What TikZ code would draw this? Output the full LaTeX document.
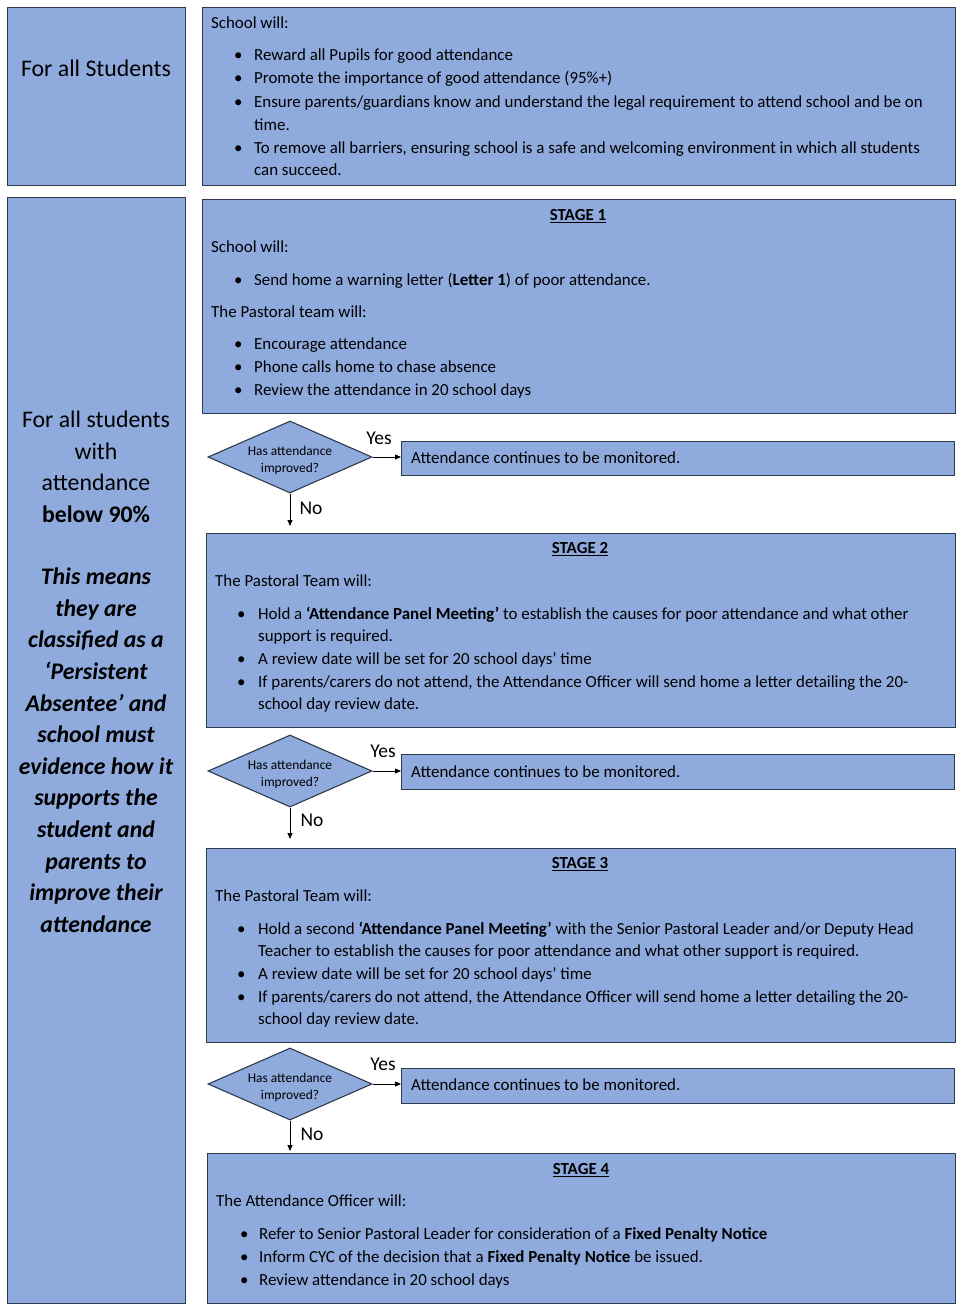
\documentclass[tikz,border=0pt]{standalone}
\usepackage{fontspec}
\setmainfont{Carlito}
\usetikzlibrary{shapes.geometric,arrows.meta}
\definecolor{boxfill}{HTML}{8FAADC}
\definecolor{boxline}{HTML}{2E3A4E}
\newcommand\tl[4]{\node[txt] (#1) at (#2,#3+6) {#4};}
\newcommand\bl[5]{\node[txt] (#1b) at (#2-3,#4+6) {•};\node[txt] (#1) at (#3,#4+6) {#5};}
\begin{document}
\begin{tikzpicture}[x=1pt,y=-1pt,
  box/.style={draw=boxline,fill=boxfill,line width=1.3pt},
  txt/.style={anchor=base west,inner sep=0pt,font=\fontsize{16.9}{20}\selectfont},
  ttl/.style={anchor=base,inner sep=0pt,font=\fontsize{16.9}{20}\selectfont\bfseries},
  side/.style={anchor=base,inner sep=0pt,font=\fontsize{23.8}{28}\selectfont},
  dec/.style={diamond,draw=boxline,fill=boxfill,line width=1.1pt,minimum width=164pt,minimum height=72pt,inner sep=0pt},
  dtxt/.style={anchor=base,inner sep=0pt,font=\fontsize{13.4}{17}\selectfont},
  mon/.style={draw=boxline,fill=boxfill,line width=1.1pt},
  lab/.style={anchor=base,inner sep=0pt,font=\fontsize{19.5}{22}\selectfont},
  arr/.style={-{Triangle[length=6pt,width=5pt]},line width=0.8pt,draw=black}]
\useasboundingbox (0,0) rectangle (964,1314);
% left column
\node[box,minimum width=178pt,minimum height=178pt,anchor=north west,inner sep=0pt] (lefttop) at (7,7) {};
\node[side] (lt1) at (96,77) {For all Students};
\node[box,minimum width=178pt,minimum height=1106pt,anchor=north west,inner sep=0pt] (leftbig) at (7,197) {};
\node[side] (lb1) at (96,427) {For all students};
\node[side] (lb2) at (96,459) {with};
\node[side] (lb3) at (96,490) {attendance};
\node[side] (lb4) at (96,522) {\bfseries below 90\%};
\foreach \t [count=\i] in {This means,they are,classified as a,‘Persistent,Absentee’ and,school must,evidence how it,supports the,student and,parents to,improve their,attendance}
  \node[side,font=\fontsize{23.8}{28}\selectfont\bfseries\itshape] (li\i) at (96,553+31.6*\i) {\t};
% top right
\node[box,minimum width=753pt,minimum height=178pt,anchor=north west,inner sep=0pt] (toprt) at (202,7) {};
\tl{t0}{211}{23}{School will:}
\bl{t1}{237}{254}{55}{Reward all Pupils for good attendance}
\bl{t2}{237}{254}{78}{Promote the importance of good attendance (95\%+)}
\bl{t3}{237}{254}{101}{Ensure parents/guardians know and understand the legal requirement to attend school and be on}
\tl{t4}{254}{124}{time.}
\bl{t5}{237}{254}{147}{To remove all barriers, ensuring school is a safe and welcoming environment in which all students}
\tl{t6}{254}{169}{can succeed.}
% stage 1
\node[box,minimum width=753pt,minimum height=214pt,anchor=north west,inner sep=0pt] (s1) at (202,199) {};
\node[ttl] (s1t) at (578,220.5) {\underline{STAGE 1}};
\tl{s1a}{211}{246}{School will:}
\bl{s1b}{237}{254}{279}{Send home a warning letter (\textbf{Letter 1}) of poor attendance.}
\tl{s1c}{211}{311}{The Pastoral team will:}
\bl{s1d}{237}{254}{343}{Encourage attendance}
\bl{s1e}{237}{254}{366}{Phone calls home to chase absence}
\bl{s1f}{237}{254}{389}{Review the attendance in 20 school days}
% decision 1
\node[dec] (d1) at (290,457) {};
\node[dtxt] (d1a) at (290,455.5) {Has attendance};
\node[dtxt] (d1b) at (290,472.5) {improved?};
\node[mon,minimum width=553pt,minimum height=34pt,anchor=north west,inner sep=0pt] (m1) at (401,441) {};
\tl{m1t}{411}{457}{Attendance continues to be monitored.}
\draw[arr] (d1.east) -- (m1.west|-d1.east);
\node[lab] (y1) at (379,444) {Yes};
\coordinate (n1) at (290,526);
\draw[arr] (d1.south) -- (n1);
\node[lab] (no1) at (311,514) {No};
% stage 2
\node[box,minimum width=749pt,minimum height=194pt,anchor=north west,inner sep=0pt] (s2) at (206,533) {};
\node[ttl] (s2t) at (580,553.5) {\underline{STAGE 2}};
\tl{s2a}{215}{580}{The Pastoral Team will:}
\bl{s2b}{240}{258}{613}{Hold a \textbf{‘Attendance Panel Meeting’} to establish the causes for poor attendance and what other}
\tl{s2c}{258}{635}{support is required.}
\bl{s2d}{240}{258}{658}{A review date will be set for 20 school days’ time}
\bl{s2e}{240}{258}{681}{If parents/carers do not attend, the Attendance Officer will send home a letter detailing the 20-}
\tl{s2f}{258}{703}{school day review date.}
% decision 2
\node[dec] (d2) at (290,771) {};
\node[dtxt] (d2a) at (290,769) {Has attendance};
\node[dtxt] (d2b) at (290,786) {improved?};
\node[mon,minimum width=553pt,minimum height=35pt,anchor=north west,inner sep=0pt] (m2) at (401,754) {};
\tl{m2t}{411}{771}{Attendance continues to be monitored.}
\draw[arr] (d2.east) -- (m2.west|-d2.east);
\node[lab] (y2) at (383,757) {Yes};
\coordinate (n2) at (290,839);
\draw[arr] (d2.south) -- (n2);
\node[lab] (no2) at (312,826) {No};
% stage 3
\node[box,minimum width=749pt,minimum height=194pt,anchor=north west,inner sep=0pt] (s3) at (206,848) {};
\node[ttl] (s3t) at (580,868.5) {\underline{STAGE 3}};
\tl{s3a}{215}{895}{The Pastoral Team will:}
\bl{s3b}{240}{258}{928}{Hold a second \textbf{‘Attendance Panel Meeting’} with the Senior Pastoral Leader and/or Deputy Head}
\tl{s3c}{258}{950}{Teacher to establish the causes for poor attendance and what other support is required.}
\bl{s3d}{240}{258}{973}{A review date will be set for 20 school days’ time}
\bl{s3e}{240}{258}{996}{If parents/carers do not attend, the Attendance Officer will send home a letter detailing the 20-}
\tl{s3f}{258}{1018}{school day review date.}
% decision 3
\node[dec] (d3) at (290,1084) {};
\node[dtxt] (d3a) at (290,1082) {Has attendance};
\node[dtxt] (d3b) at (290,1099) {improved?};
\node[mon,minimum width=553pt,minimum height=35pt,anchor=north west,inner sep=0pt] (m3) at (401,1068) {};
\tl{m3t}{411}{1084}{Attendance continues to be monitored.}
\draw[arr] (d3.east) -- (m3.west|-d3.east);
\node[lab] (y3) at (383,1070) {Yes};
\coordinate (n3) at (290,1151);
\draw[arr] (d3.south) -- (n3);
\node[lab] (no3) at (312,1140) {No};
% stage 4
\node[box,minimum width=748pt,minimum height=150pt,anchor=north west,inner sep=0pt] (s4) at (207,1153) {};
\node[ttl] (s4t) at (581,1174.5) {\underline{STAGE 4}};
\tl{s4a}{216}{1200}{The Attendance Officer will:}
\bl{s4b}{243}{259}{1233}{Refer to Senior Pastoral Leader for consideration of a \textbf{Fixed Penalty Notice}}
\bl{s4c}{243}{259}{1256}{Inform CYC of the decision that a \textbf{Fixed Penalty Notice} be issued.}
\bl{s4d}{243}{259}{1279}{Review attendance in 20 school days}
\end{tikzpicture}
\end{document}
